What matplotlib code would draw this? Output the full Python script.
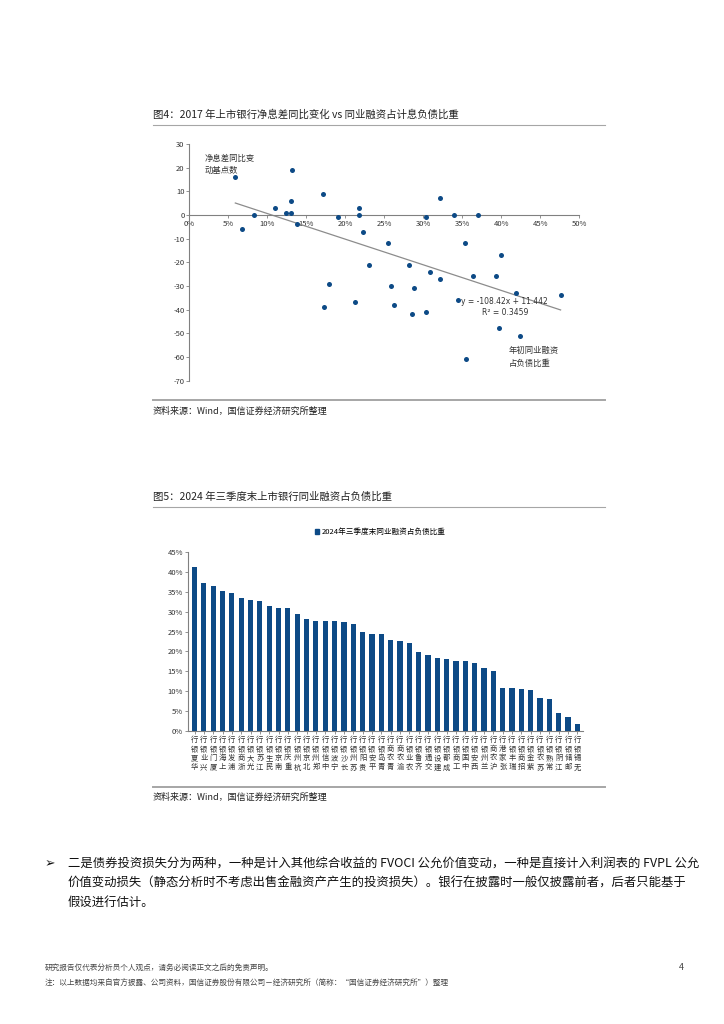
import numpy as np
import matplotlib
matplotlib.use("Agg")
import matplotlib.pyplot as plt
from matplotlib.lines import Line2D
from matplotlib.patches import Patch

plt.rcParams['font.family'] = ['Noto Sans CJK SC', 'DejaVu Sans']
plt.rcParams['axes.unicode_minus'] = False

# 图4 数据：同业融资占计息负债比重 (%) vs 净息差同比变动 (bp)
share_2017 = [5.9, 6.7, 8.3, 11.0, 12.4, 13.2, 13.1, 13.1, 13.8, 17.1,
              19.1, 21.8, 21.8, 22.3, 23.0, 25.5, 32.1, 30.3, 34.0, 37.0,
              35.4, 40.0, 28.2, 30.9, 32.1, 36.4, 39.3, 25.8, 28.8, 41.9,
              47.6, 21.2, 34.4, 26.2, 28.6, 30.3, 39.7, 42.4, 35.5, 17.3,
              17.9]
nim_change = [16, -6, 0, 3, 1, 19, 6, 1, -4, 9,
              -1, 3, 0, -7, -21, -12, 7, -1, 0, 0,
              -12, -17, -21, -24, -27, -26, -26, -30, -31, -33,
              -34, -37, -36, -38, -42, -41, -48, -51, -61, -39,
              -29]
trend_slope = -108.42
trend_intercept = 11.442

# 图5 数据：2024年三季度末同业融资占负债比重 (%)
banks = ['华夏银行', '兴业银行', '厦门银行', '上海银行', '浦发银行', '浙商银行', '光大银行',
         '江苏银行', '民生银行', '南京银行', '重庆银行', '杭州银行', '北京银行', '郑州银行',
         '中信银行', '宁波银行', '长沙银行', '苏州银行', '贵阳银行', '平安银行', '青岛银行',
         '青农商行', '渝农商行', '农业银行', '齐鲁银行', '交通银行', '建设银行', '成都银行',
         '工商银行', '中国银行', '西安银行', '兰州银行', '沪农商行', '张家港行', '瑞丰银行',
         '招商银行', '紫金银行', '苏农银行', '常熟银行', '江阴银行', '邮储银行', '无锡银行']
share_2024 = [41.2, 37.3, 36.5, 35.1, 34.6, 33.4, 32.9, 32.7, 31.3, 30.8, 30.8,
              29.3, 28.1, 27.7, 27.7, 27.6, 27.3, 27.0, 25.0, 24.4, 24.4, 22.9,
              22.6, 22.1, 19.8, 19.2, 18.4, 18.2, 17.6, 17.6, 17.2, 15.9, 15.0,
              10.7, 10.7, 10.6, 10.2, 8.4, 8.0, 4.6, 3.6, 1.7]

W, H = 724, 1024
blue = '#0d4a86'
grey_line = '#a6a6a6'
txt = '#222222'


def fx(x):
    return x / W


def fy(y):
    return 1 - y / H


def hline(fig, x0, x1, y, lw=0.8, color=grey_line):
    fig.add_artist(Line2D([fx(x0), fx(x1)], [fy(y), fy(y)], transform=fig.transFigure,
                          color=color, lw=lw))


fig = plt.figure(figsize=(W / 100, H / 100), dpi=100)

# ---------- 图4 ----------
fig.text(fx(153), fy(115), '图4：2017 年上市银行净息差同比变化 vs 同业融资占计息负债比重',
         fontsize=7.5, color=txt, va='center', ha='left')
hline(fig, 153, 605, 125)

ax1 = fig.add_axes([fx(189.3), fy(380.5), fx(579.3 - 189.3), (380.5 - 144) / H])
x1 = np.array(share_2017) / 100
ax1.scatter(x1, nim_change, s=13, color=blue, zorder=3, linewidths=0)
xs = np.array([x1.min(), x1.max()])
ax1.plot(xs, trend_slope * xs + trend_intercept, color='#8c8c8c', lw=0.9, zorder=2)
ax1.set_xlim(0, 0.5)
ax1.set_ylim(-70, 30)
ax1.spines['top'].set_visible(False)
ax1.spines['right'].set_visible(False)
ax1.spines['bottom'].set_position(('data', 0))
for s in ['left', 'bottom']:
    ax1.spines[s].set_color('#808080')
    ax1.spines[s].set_linewidth(0.8)
ax1.set_xticks(np.arange(0, 0.51, 0.05))
ax1.set_xticklabels([f'{v}%' for v in range(0, 51, 5)])
ax1.set_yticks(np.arange(-70, 31, 10))
ax1.tick_params(axis='both', labelsize=5.5, colors='#808080', length=2, width=0.6,
                labelcolor='#333333', pad=1.5)
ax1.patch.set_visible(False)
ax1.text(0.02, 26, '净息差同比变\n动基点数', fontsize=6, color='#333333', va='top',
         linespacing=1.5)
ax1.text(0.41, -55.5, '年初同业融资\n占负债比重', fontsize=6, color='#333333', va='top',
         linespacing=1.5)
ax1.text(0.348, -37.5, 'y = -108.42x + 11.442', fontsize=5.5, color='#333333',
         family='DejaVu Sans')
ax1.text(0.375, -42.5, 'R² = 0.3459', fontsize=5.5, color='#333333', family='DejaVu Sans')

hline(fig, 153, 605, 400, lw=1.4)
fig.text(fx(153), fy(411), '资料来源：Wind，国信证券经济研究所整理', fontsize=6.5,
         color=txt, va='center')

# ---------- 图5 ----------
fig.text(fx(153), fy(497), '图5：2024 年三季度末上市银行同业融资占负债比重',
         fontsize=7.5, color=txt, va='center', ha='left')
hline(fig, 153, 605, 507)

ax2 = fig.add_axes([fx(188), fy(731), fx(583 - 188), (731 - 552) / H])
pos = np.arange(len(banks))
bars = ax2.bar(pos, np.array(share_2024) / 100, width=0.55, color=blue)
ax2.set_xlim(-0.7, len(banks) - 0.4)
ax2.set_ylim(0, 0.45)
ax2.set_yticks(np.arange(0, 0.451, 0.05))
ax2.set_yticklabels([f'{v}%' for v in range(0, 46, 5)])
ax2.set_xticks(pos)
# 标签从下往上读（旋转文字），字符保持正立
ax2.set_xticklabels(['\n'.join(reversed(b)) for b in banks], fontsize=5.3,
                    linespacing=1.2, va='top')
ax2.spines['top'].set_visible(False)
ax2.spines['right'].set_visible(False)
for s in ['left', 'bottom']:
    ax2.spines[s].set_color('#808080')
    ax2.spines[s].set_linewidth(0.8)
ax2.tick_params(axis='y', labelsize=5.5, colors='#808080', length=2, width=0.6,
                labelcolor='#333333', pad=1.5)
ax2.tick_params(axis='x', colors='#808080', length=2, width=0.6,
                labelcolor='#333333', pad=1.5)
ax2.legend(handles=[Patch(color=blue)], labels=['2024年三季度末同业融资占负债比重'],
           loc='center', bbox_to_anchor=(0.487, 1.11), frameon=False, fontsize=5.5,
           handlelength=0.5, handleheight=0.5, handletextpad=0.3)

hline(fig, 153, 605, 787, lw=1.4)
fig.text(fx(153), fy(797), '资料来源：Wind，国信证券经济研究所整理', fontsize=6.5,
         color=txt, va='center')

# ---------- 正文 ----------
fig.text(fx(45), fy(864), '➢', fontsize=9, color='#111111', va='center',
         family='DejaVu Sans')
para = ['二是债券投资损失分为两种，一种是计入其他综合收益的 FVOCI 公允价值变动，一种是直接计入利润表的 FVPL 公允',
        '价值变动损失（静态分析时不考虑出售金融资产产生的投资损失）。银行在披露时一般仅披露前者，后者只能基于',
        '假设进行估计。']
for i, line in enumerate(para):
    fig.text(fx(68), fy(864 + 19 * i), line, fontsize=8.9, color='#111111', va='center')

fig.text(fx(45), fy(968), '研究报告仅代表分析员个人观点，请务必阅读正文之后的免责声明。',
         fontsize=5.5, color='#444444', va='center')
fig.text(fx(679), fy(968), '4', fontsize=6.5, color='#444444', va='center')
fig.text(fx(45), fy(984),
         '注：以上数据均来自官方披露、公司资料，国信证券股份有限公司－经济研究所（简称：“国信证券经济研究所”）整理',
         fontsize=5.5, color='#444444', va='center')

fig.savefig('out.png', dpi=100)
